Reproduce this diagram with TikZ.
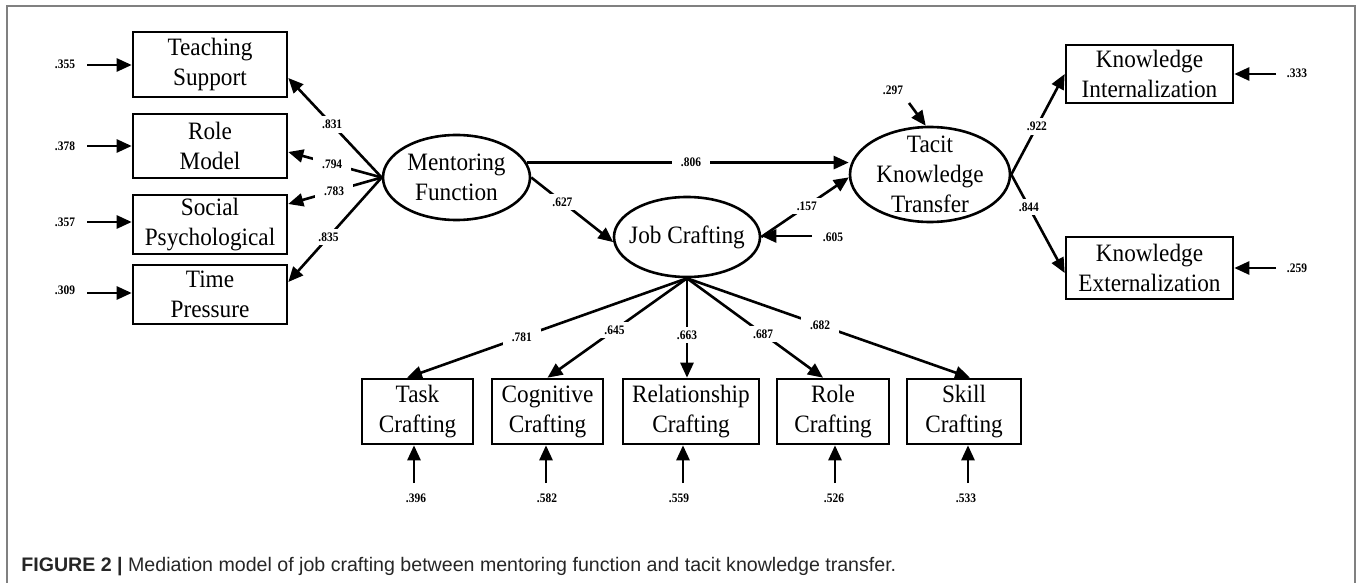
\documentclass[tikz,border=0pt]{standalone}
\usepackage{fontspec}
\setmainfont{Liberation Serif}[FakeStretch=0.93]
\newfontfamily\numfont{Liberation Serif}[FakeStretch=0.88]
\newfontfamily\capfont{Liberation Sans}
\usetikzlibrary{arrows.meta,shapes.geometric,calc}
\begin{document}
\begin{tikzpicture}[x=0.5pt,y=-0.5pt,
  txt/.style={font=\fontsize{12.5}{15}\selectfont, align=center, inner sep=0pt},
  box/.style={draw, line width=1.3pt, rectangle, inner sep=0pt, align=center, font=\fontsize{12.5}{15}\selectfont},
  lat/.style={draw, line width=1.3pt, ellipse, inner sep=0pt},
  arr/.style={line width=1.3pt, -{Triangle[length=7.5pt,width=6.5pt]}},
  lbl/.style={fill=white, inner xsep=4.5pt, inner ysep=2pt, font=\numfont\bfseries\fontsize{6.5}{7}\selectfont},
  num/.style={inner sep=0pt, font=\numfont\bfseries\fontsize{6.5}{7}\selectfont}
]
\useasboundingbox (0,0) rectangle (1357,583);
\fill[white] (0,0) rectangle (1357,583);
\draw[gray, line width=1pt] (7,583) -- (7,6) -- (1355,6) -- (1355,583);

% left indicator boxes
\node[box, minimum width=77pt, minimum height=32.5pt] (ts) at (210,64.5) {Teaching\\Support};
\node[box, minimum width=77pt, minimum height=32pt] (rm) at (210,146) {Role\\Model};
\node[box, minimum width=77pt, minimum height=29.5pt] (sp) at (210,224.5) {Social\\Psychological};
\node[box, minimum width=77pt, minimum height=29.5pt] (tp) at (210,294.5) {Time\\Pressure};

% right indicator boxes
\node[box, minimum width=83.5pt, minimum height=29pt] (ki) at (1149.5,74) {Knowledge\\Internalization};
\node[box, minimum width=83.5pt, minimum height=31pt] (ke) at (1149.5,268) {Knowledge\\Externalization};

% bottom indicator boxes
\node[box, minimum width=55.5pt, minimum height=32.5pt] (task) at (417.5,411.5) {Task\\Crafting};
\node[box, minimum width=55.5pt, minimum height=32.5pt] (cog) at (547.5,411.5) {Cognitive\\Crafting};
\node[box, minimum width=68pt, minimum height=32.5pt] (rel) at (691,411.5) {Relationship\\Crafting};
\node[box, minimum width=56pt, minimum height=32.5pt] (role) at (833,411.5) {Role\\Crafting};
\node[box, minimum width=57pt, minimum height=32.5pt] (skill) at (964,411.5) {Skill\\Crafting};

% latent variables
\node[lat, minimum width=73.5pt, minimum height=42.5pt,
  label={[txt]center:Mentoring\\Function}] (mf) at (456.5,177.5) {};
\node[lat, minimum width=80pt, minimum height=47.5pt,
  label={[txt]center:Tacit\\Knowledge\\Transfer}] (tkt) at (930,174.5) {};
\node[lat, minimum width=73pt, minimum height=40pt,
  label={[txt]center:Job Crafting}] (jc) at (687,237) {};

% loadings of mentoring function
\draw[arr] (mf.west) -- node[lbl,pos=0.53]{.831} ([yshift=-6.75pt]ts.east);
\draw[arr] (mf.west) -- node[lbl,pos=0.53]{.794} ([yshift=-3pt]rm.east);
\draw[arr] (mf.west) -- node[lbl,pos=0.51]{.783} ([yshift=10.25pt]sp.east);
\draw[arr] (mf.west) -- node[lbl,pos=0.57]{.835} ([yshift=6.25pt]tp.east);

% structural paths
\draw[arr] (mf.12) -- node[lbl,pos=0.51]{.806} (mf.12 -| tkt.west);
\draw[arr] (mf.east) -- node[lbl,pos=0.38]{.627} (jc.184);
\draw[arr] (jc.east) -- node[lbl,pos=0.52]{.157} (tkt.182);

% loadings of tacit knowledge transfer
\draw[arr] (tkt.east) -- node[lbl,pos=0.48]{.922} (ki.west);
\draw[arr] (tkt.east) -- node[lbl,pos=0.33]{.844} ([yshift=-2.5pt]ke.west);

% loadings of job crafting
\draw[arr] (jc.south) -- node[lbl,pos=0.59]{.781} ([xshift=-5.25pt]task.north);
\draw[arr] (jc.south) -- node[lbl,pos=0.52]{.645} (cog.north);
\draw[arr] (jc.south) -- node[lbl,pos=0.57]{.663} (jc.south |- rel.north);
\draw[arr] (jc.south) -- node[lbl,pos=0.56]{.687} ([xshift=-5pt]role.north);
\draw[arr] (jc.south) -- node[lbl,pos=0.47]{.682} ([xshift=3pt]skill.north);

% error terms, left
\node[num] (n355) at (65,64) {.355};
\node[num] (n378) at (65,146) {.378};
\node[num] (n357) at (65,222) {.357};
\node[num] (n309) at (65,290) {.309};
\coordinate (e355) at (87,65);
\coordinate (e378) at (87,146);
\coordinate (e357) at (87,222);
\coordinate (e309) at (87,293);
\draw[arr] (e355) -- (e355 -| ts.west);
\draw[arr] (e378) -- (e378 -| rm.west);
\draw[arr] (e357) -- (e357 -| sp.west);
\draw[arr] (e309) -- (e309 -| tp.west);

% error terms, right
\node[num] (n333) at (1297,73) {.333};
\node[num] (n259) at (1297,268) {.259};
\coordinate (e333) at (1276,74);
\coordinate (e259) at (1276,268);
\draw[arr] (e333) -- (e333 -| ki.east);
\draw[arr] (e259) -- (e259 -| ke.east);

% disturbances
\node[num] (n297) at (893,90) {.297};
\coordinate (e297) at (909,103);
\draw[arr] (e297) -- (tkt.95);
\node[num] (n605) at (833,237) {.605};
\coordinate (e605) at (812,236);
\draw[arr] (e605) -- (e605 -| jc.east);

% error terms, bottom
\node[num] (n396) at (416,498) {.396};
\node[num] (n582) at (547,498) {.582};
\node[num] (n559) at (679,498) {.559};
\node[num] (n526) at (834,498) {.526};
\node[num] (n533) at (966,498) {.533};
\coordinate (e396) at (414,483);
\coordinate (e582) at (546,483);
\coordinate (e559) at (683,483);
\coordinate (e526) at (835,483);
\coordinate (e533) at (968,483);
\draw[arr] (e396) -- (e396 |- task.south);
\draw[arr] (e582) -- (e582 |- cog.south);
\draw[arr] (e559) -- (e559 |- rel.south);
\draw[arr] (e526) -- (e526 |- role.south);
\draw[arr] (e533) -- (e533 |- skill.south);

% caption
\node[anchor=base west, inner sep=0pt, text=black!85,
  font=\capfont\fontsize{9.8}{11}\selectfont] (cap) at (21,571)
  {\textbf{FIGURE 2 |} Mediation model of job crafting between mentoring function and tacit knowledge transfer.};
\end{tikzpicture}
\end{document}
